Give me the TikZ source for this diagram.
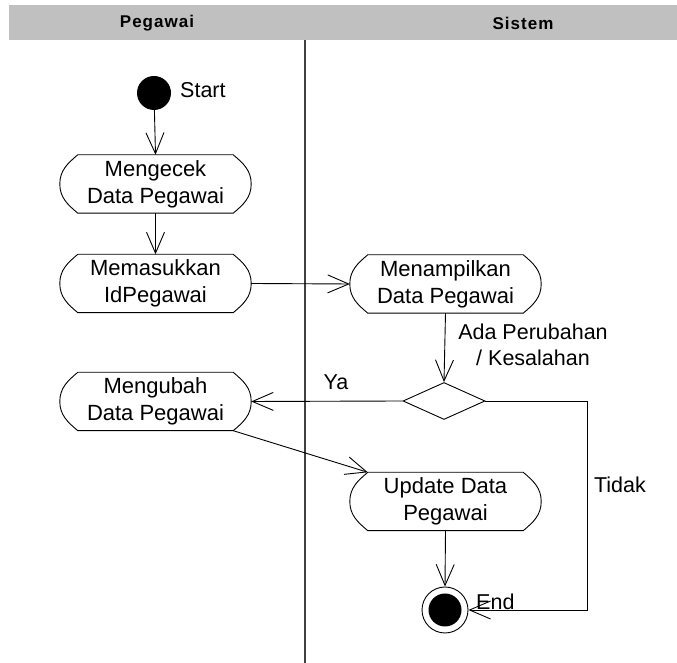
\documentclass[tikz,border=0pt]{standalone}
\usepackage{fontspec}
\setmainfont{Liberation Sans}
\newfontfamily\lanefont[LetterSpace=6]{Liberation Sans}
\usetikzlibrary{arrows.meta,shapes.geometric}

\definecolor{lanehead}{HTML}{C0C0C0}
\definecolor{lanerule}{HTML}{404040}

\tikzset{
  flow/.style={draw=black, line width=0.9pt,
    -{Straight Barb[length=21pt,width=18pt,line width=0.9pt]}},
  actbox/.style={minimum width=191pt, minimum height=58pt, inner sep=0pt,
    align=center, font=\fontsize{22}{27}\selectfont},
  lbl/.style={inner sep=0pt, font=\fontsize{21.5}{26}\selectfont},
  headtxt/.style={inner sep=0pt, font=\lanefont\fontsize{17}{19}\bfseries\selectfont},
  startdot/.style={circle, fill=black, minimum size=34pt, inner sep=0pt},
  enddot/.style={circle, draw=black, line width=0.9pt, minimum size=46pt, inner sep=0pt,
    path picture={\fill[black] (path picture bounding box.center) circle (16.5pt);}},
  choice/.style={diamond, draw=black, line width=0.9pt, minimum width=82pt,
    minimum height=37pt, inner sep=0pt}
}

% activity outline: straight top and bottom, bowed sides
\newcommand{\actoutline}[1]{%
  \draw[line width=0.9pt]
    ([xshift=18pt]#1.north west) -- ([xshift=-18pt]#1.north east)
    to[out=-40,in=90] (#1.east) to[out=-90,in=40] ([xshift=-18pt]#1.south east)
    -- ([xshift=18pt]#1.south west)
    to[out=140,in=-90] (#1.west) to[out=90,in=-140] cycle;}

\begin{document}
\begin{tikzpicture}[x=1pt,y=1pt]
\useasboundingbox (0,0) rectangle (677,663);

% swimlane header and divider
\fill[lanehead] (9,623) rectangle (677,658);
\node[headtxt] (hpeg) at (157,640) {Pegawai};
\node[headtxt] (hsis) at (523,640) {Sistem};
\draw[lanerule, line width=1.8pt] (305,623) -- (305,0);

% states
\node[startdot] (start) at (154,570) {};
\node[lbl, anchor=west] (startlbl) at (180,573) {Start};

\node[actbox] (cek) at (155.5,479) {Mengecek\\Data Pegawai};
\actoutline{cek}
\node[actbox] (masuk) at (155.5,379.5) {Memasukkan\\IdPegawai};
\actoutline{masuk}
\node[actbox] (tampil) at (445.5,379) {Menampilkan\\Data Pegawai};
\actoutline{tampil}
\node[choice] (dec) at (444,262) {};
\node[lbl, align=center] (cond) at (533,318) {Ada Perubahan\\/ Kesalahan};
\node[actbox] (ubah) at (155.5,261.5) {Mengubah\\Data Pegawai};
\actoutline{ubah}
\node[actbox] (upd) at (445.5,161.5) {Update Data\\Pegawai};
\actoutline{upd}
\node[enddot] (end) at (445,53) {};
\node[lbl, anchor=west] (endlbl) at (476,61) {End};

\node[lbl] (ya) at (336,281) {Ya};
\node[lbl] (tidak) at (620,178) {Tidak};

% transitions
\draw[flow] (start) -- (cek.north);
\draw[flow] (cek.south) -- (masuk.north);
\draw[flow] (masuk.east) -- (tampil.west);
\draw[flow] (tampil.south) -- (dec.north);
\draw[flow] (dec.west) -- (ubah.east);
\draw[flow] ([xshift=-18pt]ubah.south east) -- ([xshift=18pt]upd.north west);
\draw[flow] (upd.south) -- (end.north);
\coordinate (tk1) at (587,262);
\coordinate (tk2) at (587,53);
\draw[flow] (dec.east) -- (tk1) -- (tk2) -- (end.east);
\end{tikzpicture}
\end{document}
